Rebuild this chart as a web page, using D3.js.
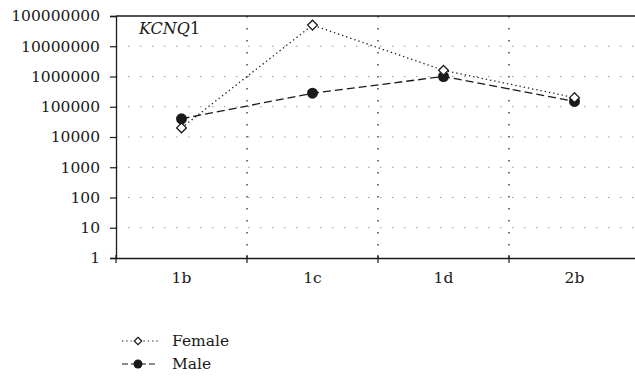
<!DOCTYPE html>
<html>
<head>
<meta charset="utf-8">
<script src="https://cdn.jsdelivr.net/npm/d3@7"></script>
<style>
  body { margin: 0; background: #fff; }
</style>
</head>
<body>
<div id="chart"></div>
<script>
// data
const categories = ['1b', '1c', '1d', '2b'];
const female = [20000, 50000000, 1600000, 200000];
const male = [40000, 280000, 1000000, 150000];
const yTicks = [1, 10, 100, 1000, 10000, 100000, 1000000, 10000000, 100000000];

const width = 635, height = 379;
const margin = {top: 16, right: -5, bottom: 121, left: 116};
const innerwidth = width - margin.left - margin.right;
const innerheight = height - margin.top - margin.bottom;
const ink = '#1a1a1a';

// fonts go inline on each text
const serif = (sel, size) => sel
    .attr('fill', ink)
    .style('font-family', '"DejaVu Serif"')
    .style('font-size', size + 'px');

const svg = d3.select('#chart').append('svg')
    .attr('width', width)
    .attr('height', height);

const g = svg.append('g')
    .attr('transform', 'translate(' + margin.left + ',' + margin.top + ')');

const xscale = d3.scaleBand()
    .domain(categories)
    .range([0, innerwidth]);

const yscale = d3.scaleLog()
    .domain([1, 100000000])
    .range([innerheight, 0]);

// horizontal grid, gray dots
g.selectAll('.hgrid')
    .data(yTicks.slice(1, -1))
    .enter().append('line')
    .attr('x1', 0).attr('x2', innerwidth)
    .attr('y1', d => yscale(d)).attr('y2', d => yscale(d))
    .attr('stroke', '#999').attr('stroke-width', 1.2)
    .attr('stroke-dasharray', '1.5,10.5');

// vertical grid, black dots between categories
g.selectAll('.vgrid')
    .data(categories.slice(1))
    .enter().append('line')
    .attr('x1', d => xscale(d)).attr('x2', d => xscale(d))
    .attr('y1', 0).attr('y2', innerheight)
    .attr('stroke', ink).attr('stroke-width', 1.2)
    .attr('stroke-dasharray', '1.5,10.5');

// top border
g.append('line')
    .attr('x1', 0).attr('x2', innerwidth)
    .attr('y1', 0).attr('y2', 0)
    .attr('stroke', ink).attr('stroke-width', 1.3);

// y axis
const yaxisG = g.append('g')
    .call(d3.axisLeft(yscale).tickValues(yTicks).tickFormat(d3.format('d')).tickSize(6).tickPadding(10));
yaxisG.attr('font-family', null).attr('font-size', null);
yaxisG.select('.domain').attr('stroke', ink).attr('stroke-width', 1.3);
yaxisG.selectAll('.tick line').attr('stroke', ink).attr('stroke-width', 1.2);
serif(yaxisG.selectAll('.tick text'), 15.5);

// x axis
const xaxisG = g.append('g')
    .attr('transform', 'translate(0,' + innerheight + ')')
    .call(d3.axisBottom(xscale).tickSize(0).tickPadding(14));
xaxisG.attr('font-family', null).attr('font-size', null);
xaxisG.select('.domain').attr('stroke', ink).attr('stroke-width', 1.3);
serif(xaxisG.selectAll('.tick text'), 15.5);
xaxisG.selectAll('.sep')
    .data(categories)
    .enter().append('line')
    .attr('x1', d => xscale(d)).attr('x2', d => xscale(d))
    .attr('y1', -3).attr('y2', 5)
    .attr('stroke', ink).attr('stroke-width', 1.2);

const cx = d => xscale(d) + xscale.bandwidth() / 2;

const line = d3.line()
    .x(d => cx(d[0]))
    .y(d => yscale(d[1]));

const fData = categories.map((c, i) => [c, female[i]]);
const mData = categories.map((c, i) => [c, male[i]]);

g.append('path')
    .datum(fData)
    .attr('d', line)
    .attr('fill', 'none')
    .attr('stroke', ink)
    .attr('stroke-width', 1.3)
    .attr('stroke-dasharray', '1.3,3');

g.append('path')
    .datum(mData)
    .attr('d', line)
    .attr('fill', 'none')
    .attr('stroke', ink)
    .attr('stroke-width', 1.3)
    .attr('stroke-dasharray', '8,4');

const diamond = d3.symbol().type(d3.symbolDiamond2).size(60);

g.selectAll('.mmark')
    .data(mData)
    .enter().append('circle')
    .attr('cx', d => cx(d[0]))
    .attr('cy', d => yscale(d[1]))
    .attr('r', 5.5)
    .attr('fill', ink);

g.selectAll('.fmark')
    .data(fData)
    .enter().append('path')
    .attr('d', diamond)
    .attr('transform', d => 'translate(' + cx(d[0]) + ',' + yscale(d[1]) + ')')
    .attr('fill', '#fff')
    .attr('stroke', ink)
    .attr('stroke-width', 1.3);

// gene label
const label = serif(g.append('text')
    .attr('x', 23)
    .attr('y', 18), 16);
label.append('tspan').style('font-style', 'italic').text('KCNQ');
label.append('tspan').text('1');

// legend
const legend = svg.append('g').attr('transform', 'translate(122,341)');
const items = [
    {name: 'Female', dash: '1.3,3', sym: 'diamond'},
    {name: 'Male', dash: '6,3', sym: 'circle'}
];
items.forEach((it, i) => {
    const row = legend.append('g').attr('transform', 'translate(0,' + (i * 23) + ')');
    row.append('line')
        .attr('x1', 0).attr('x2', 36)
        .attr('stroke', ink).attr('stroke-width', 1.2)
        .attr('stroke-dasharray', it.dash);
    if (it.sym === 'diamond') {
        row.append('path')
            .attr('d', d3.symbol().type(d3.symbolDiamond2).size(36))
            .attr('transform', 'translate(16,0)')
            .attr('fill', '#fff').attr('stroke', ink).attr('stroke-width', 1.2);
    } else {
        row.append('circle').attr('cx', 16).attr('r', 4.5).attr('fill', ink);
    }
    serif(row.append('text')
        .attr('x', 50)
        .attr('y', 5), 15.5)
        .text(it.name);
});
</script>
</body>
</html>
